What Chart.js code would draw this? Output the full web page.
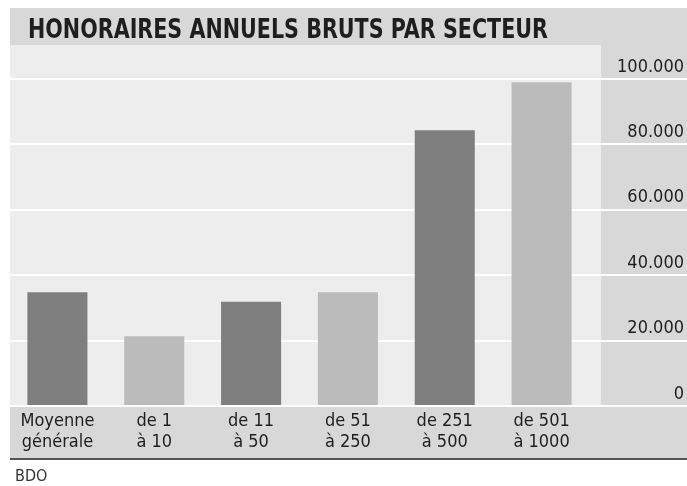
<!DOCTYPE html>
<html>
<head>
<meta charset="utf-8">
<script src="https://cdn.jsdelivr.net/npm/chart.js@4"></script>
<style>
html,body{margin:0;padding:0;background:#fff;}
#wrap{width:687px;height:486px;position:relative;}
</style>
</head>
<body>
<div id="wrap"><canvas id="c" width="687" height="486"></canvas></div>
<script>
const titleText = 'HONORAIRES ANNUELS BRUTS PAR SECTEUR';
const sourceText = 'BDO';
const categories = [['Moyenne','générale'],['de 1','à 10'],['de 11','à 50'],['de 51','à 250'],['de 251','à 500'],['de 501','à 1000']];
const values = [34800, 21300, 31900, 34800, 84300, 99000];
const barColors = ['#7f7f7f','#bbbbbb','#7f7f7f','#bbbbbb','#7f7f7f','#bbbbbb'];
const yTickLabels = ['0','20.000','40.000','60.000','80.000','100.000'];

const FONT = "'DejaVu Sans Condensed', 'Liberation Sans Narrow', 'DejaVu Sans', sans-serif";
const TITLE_FONT = "'DejaVu Sans Condensed', 'Liberation Sans Narrow', sans-serif";

const backdrop = {
  id: 'backdrop',
  beforeDraw(chart) {
    const ctx = chart.ctx;
    ctx.save();
    ctx.fillStyle = '#ffffff';
    ctx.fillRect(0, 0, 687, 486);
    // title band + right axis panel
    ctx.fillStyle = '#d8d8d8';
    ctx.fillRect(10, 8, 677, 398);
    // plot area
    ctx.fillStyle = '#ededed';
    ctx.fillRect(10, 45, 591, 361);
    // bottom label panel
    ctx.fillStyle = '#d8d8d8';
    ctx.fillRect(10, 406, 677, 53);
    ctx.fillStyle = '#555555';
    ctx.fillRect(10, 458, 677, 2);
    ctx.restore();
  },
  afterDraw(chart) {
    const ctx = chart.ctx;
    ctx.save();
    ctx.fillStyle = '#1e1e1e';
    ctx.textBaseline = 'alphabetic';
    ctx.textAlign = 'left';
    ctx.font = "bold 27px " + TITLE_FONT;
    const w = ctx.measureText(titleText).width;
    const sx = 520 / w;
    ctx.translate(28, 38);
    ctx.scale(sx, 1);
    ctx.fillText(titleText, 0, 0);
    ctx.restore();
    ctx.save();
    ctx.font = "16px " + FONT;
    ctx.fillStyle = '#333';
    ctx.fillText(sourceText, 15, 481);
    ctx.restore();
  }
};

new Chart(document.getElementById('c'), {
  type: 'bar',
  data: {
    labels: categories,
    datasets: [{
      data: values,
      backgroundColor: barColors,
      borderWidth: 0,
      barPercentage: 1,
      categoryPercentage: 0.62
    }]
  },
  options: {
    responsive: false,
    animation: false,
    devicePixelRatio: 1,
    layout: { padding: { left: 9, top: 79, right: 3, bottom: 0 } },
    plugins: { legend: { display: false }, tooltip: { enabled: false }, title: { display: false } },
    scales: {
      x: {
        grid: { display: false },
        border: { display: false },
        ticks: { font: { family: FONT, size: 18, lineHeight: 1.15 }, color: '#1e1e1e', padding: -3, maxRotation: 0, autoSkip: false },
        afterFit(s) { s.height = 80; }
      },
      y: {
        position: 'right',
        min: 0, max: 100000,
        ticks: {
          stepSize: 20000,
          callback: (v, i) => yTickLabels[i],
          font: { family: FONT, size: 18 },
          color: '#1e1e1e',
          crossAlign: 'far',
          padding: 0,
          labelOffset: -12
        },
        grid: { color: '#ffffff', lineWidth: 2, drawTicks: true, tickLength: 97, tickColor: '#ffffff' },
        border: { display: false },
        afterFit(s) { s.width = 94; }
      }
    }
  },
  plugins: [backdrop]
});
</script>
</body>
</html>
